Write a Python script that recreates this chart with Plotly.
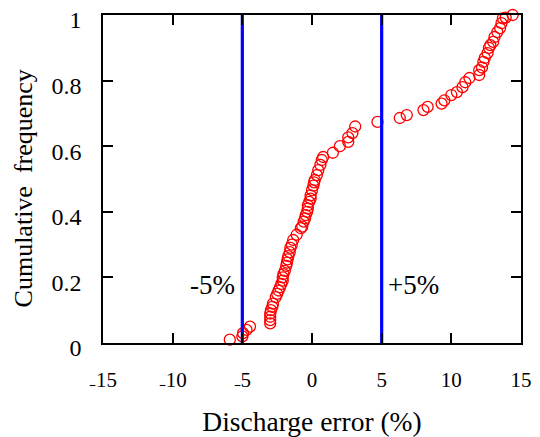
import plotly.graph_objects as go

# Discharge error (%) and cumulative frequency
discharge_error = [
    -5.9, -5.0, -4.95, -4.7, -4.45,
    -3.0, -3.0, -3.0, -3.0, -2.95, -2.85, -2.8, -2.6, -2.5, -2.4, -2.3, -2.2,
    -2.1, -2.1, -2.05, -1.95, -1.85, -1.8, -1.75, -1.7, -1.6, -1.55, -1.45, -1.35,
    -1.1, -0.8, -0.7, -0.6, -0.5, -0.45, -0.35, -0.3, -0.3, -0.2, -0.1, -0.1,
    0.0, 0.1, 0.15, 0.2, 0.35, 0.45, 0.6, 0.7, 0.8, 1.5, 2.0, 2.6, 2.6, 2.9, 3.1,
    4.7, 6.3, 6.8, 8.0, 8.3, 9.3, 9.5, 10.0, 10.4, 10.8, 11.0, 11.3,
    12.0, 12.0, 12.2, 12.3, 12.4, 12.6, 12.7, 12.8, 13.0, 13.1, 13.3, 13.5, 13.6,
    13.7, 13.9, 14.4,
]
cumulative_frequency = [
    0.01, 0.02, 0.03, 0.04, 0.05,
    0.06, 0.07, 0.08, 0.09, 0.10, 0.11, 0.12, 0.14, 0.15, 0.16, 0.17, 0.18,
    0.19, 0.20, 0.21, 0.22, 0.235, 0.245, 0.255, 0.265, 0.277, 0.29, 0.30, 0.314,
    0.33, 0.35, 0.355, 0.37, 0.38, 0.39, 0.40, 0.41, 0.42, 0.43, 0.44, 0.45,
    0.466, 0.48, 0.49, 0.497, 0.512, 0.527, 0.543, 0.558, 0.567, 0.58, 0.60, 0.613, 0.627, 0.64, 0.66,
    0.674, 0.686, 0.695, 0.71, 0.72, 0.73, 0.74, 0.756, 0.765, 0.78, 0.795, 0.808,
    0.817, 0.832, 0.84, 0.857, 0.869, 0.884, 0.90, 0.908, 0.918, 0.933, 0.948, 0.96, 0.975,
    0.99, 0.992, 1.0,
]

limit_x = [-5, 5]
limit_labels = ["-5%", "+5%"]
limit_label_y = 0.177
line_y = [0, 1]

x_ticks = [-15, -10, -5, 0, 5, 10, 15]
x_ticktext = ["\u208b15", "\u208b10", "\u208b5", "0", "5", "10", "15"]
y_ticks = [0, 0.2, 0.4, 0.6, 0.8, 1]
y_ticktext = ["0", "0.2", "0.4", "0.6", "0.8", "1"]
x_title = "Discharge error (%)"
y_title = "Cumulative  frequency"

FONT = "Liberation Serif"

fig = go.Figure()
fig.add_trace(go.Scatter(
    x=discharge_error, y=cumulative_frequency, mode="markers",
    marker=dict(symbol="circle-open", size=11, color="#ff0000", line=dict(width=1.3, color="#ff0000")),
    showlegend=False, cliponaxis=False,
))
for lx in limit_x:
    fig.add_trace(go.Scatter(
        x=[lx, lx], y=line_y, mode="lines",
        line=dict(color="#0000ff", width=3.2), showlegend=False,
    ))

fig.add_annotation(x=limit_x[0], y=limit_label_y, text=limit_labels[0], showarrow=False,
                   xanchor="right", xshift=-5, font=dict(family=FONT, size=27, color="black"))
fig.add_annotation(x=limit_x[1], y=limit_label_y, text=limit_labels[1], showarrow=False,
                   xanchor="left", xshift=4, font=dict(family=FONT, size=27, color="black"))

# y-axis title placed as rotated annotation (slightly below the axis centre, as in the reference)
fig.add_annotation(xref="paper", yref="paper", x=-0.19, y=0.47, text=y_title, textangle=-90,
                   showarrow=False, xanchor="center", yanchor="middle",
                   font=dict(family=FONT, size=26, color="black"))

fig.update_layout(
    width=540, height=437,
    margin=dict(l=103, r=19, t=15, b=94, autoexpand=False),
    paper_bgcolor="white", plot_bgcolor="white",
    font=dict(family=FONT, color="black"),
    xaxis=dict(
        range=[-15, 15], tickvals=x_ticks, ticktext=x_ticktext,
        ticks="inside", ticklen=10, tickwidth=1.5, tickcolor="black",
        showline=True, linecolor="black", linewidth=1.5, mirror="ticks",
        showgrid=False, zeroline=False, automargin=False,
        tickfont=dict(family=FONT, size=21), ticklabelstandoff=17,
        title=dict(text=x_title, font=dict(family=FONT, size=27.5), standoff=21),
    ),
    yaxis=dict(
        range=[0, 1], tickvals=y_ticks, ticktext=y_ticktext,
        ticks="inside", ticklen=10, tickwidth=1.5, tickcolor="black",
        showline=True, linecolor="black", linewidth=1.5, mirror="ticks",
        showgrid=False, zeroline=False, automargin=False,
        tickfont=dict(family=FONT, size=24), ticklabelstandoff=15, ticklabelshift=5,
    ),
)

fig.write_html("out.html")
